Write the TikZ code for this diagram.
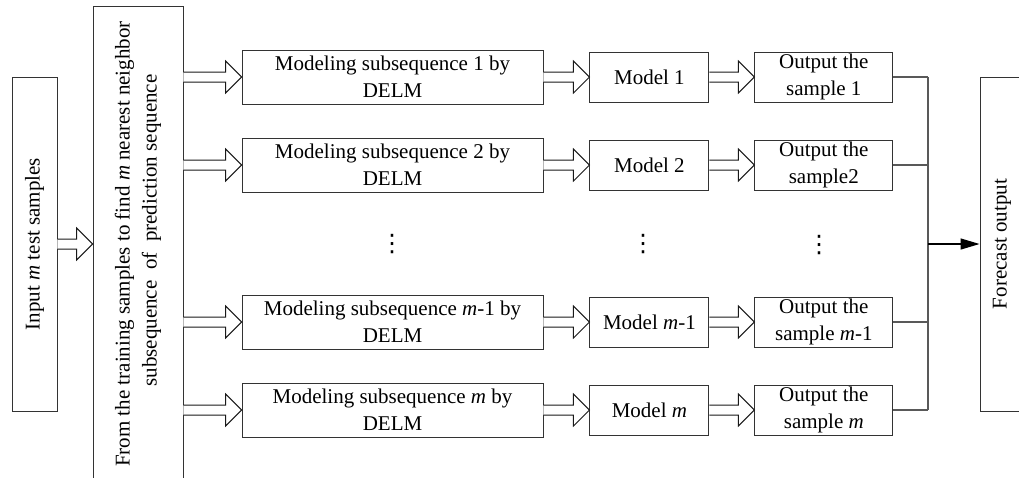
\documentclass[tikz,border=0pt]{standalone}
\usepackage{fontspec}
\setmainfont{Liberation Serif}
\newfontfamily\dotsfont{DejaVu Sans}
\usetikzlibrary{positioning}
\usetikzlibrary{calc}
\usetikzlibrary{arrows.meta}

\tikzset{
  box/.style={draw=black!80, line width=0.9pt, align=center, inner sep=1pt,
    font=\fontsize{21}{27}\selectfont},
  hollow/.style={draw=black!90, line width=1pt, fill=white},
  bus/.style={draw=black!65, line width=1.3pt},
  vdotsnode/.style={inner sep=0pt, font=\dotsfont\fontsize{24}{24}\selectfont},
}
% hollow block arrow between two points on the same row
\newcommand{\hollowarrow}[2]{%
  \draw[hollow] let \p1=(#1), \p2=(#2) in
    (\x1,\y1+5pt) -- (\x2-16pt,\y1+5pt) -- (\x2-16pt,\y1+16pt) -- (\x2,\y1)
    -- (\x2-16pt,\y1-16pt) -- (\x2-16pt,\y1-5pt) -- (\x1,\y1-5pt);}

\begin{document}
\begin{tikzpicture}[x=1pt,y=-1pt]
  \useasboundingbox (0,0) rectangle (1019,477);
  \clip (0,0) rectangle (1019,477);
  %% input and neighbour search
  \node[box, minimum width=334pt, minimum height=45pt, rotate=90] (inp) at (34.5,244)
    {Input \textit{m} test samples};
  \node[box, minimum width=476pt, minimum height=90pt, rotate=90] (big) at (138,244)
    {From the training samples to find \textit{m} nearest neighbor\\
     \hspace*{27pt}subsequence\ \ of\ \ prediction sequence};
  \hollowarrow{inp.south}{big.north}
  %% one row per subsequence
  \foreach \i/\y/\k/\o in {1/77/1/{sample 1}, 2/165/2/{sample2},
      3/322/{\textit{m}-1}/{sample \textit{m}-1}, 4/410/{\textit{m}}/{sample \textit{m}}}{
    \node[box, minimum width=301pt, minimum height=54pt] (mod\i) at (392.5,\y)
      {Modeling subsequence \k{} by\\DELM};
    \node[box, minimum width=119pt, minimum height=50pt, right=46pt of mod\i] (model\i)
      {Model \k};
    \node[box, minimum width=138pt, minimum height=50pt, right=45pt of model\i] (out\i)
      {Output the\\\o};
    \hollowarrow{big.south |- mod\i.west}{mod\i.west}
    \hollowarrow{mod\i.east}{model\i.west}
    \hollowarrow{model\i.east}{out\i.west}
  }
  %% ellipsis between rows 2 and m-1
  \node[vdotsnode] (dots1) at (392,244) {⋮};
  \node[vdotsnode] (dots2) at (643,244) {⋮};
  \node[vdotsnode] (dots3) at (819,245) {⋮};
  %% collecting the outputs
  \node[box, minimum width=334pt, minimum height=44pt, rotate=90] (fore) at (1002,244)
    {Forecast output};
  \coordinate (bus) at (928,244);
  \foreach \i in {1,...,4}
    \draw[bus] (out\i.east) -- (bus |- out\i.east);
  \draw[bus] (bus |- out1.east) -- (bus |- out4.east);
  \draw[bus, draw=black, -{Triangle[length=19pt,width=11pt]}] (bus) -- (fore.north);
\end{tikzpicture}
\end{document}
